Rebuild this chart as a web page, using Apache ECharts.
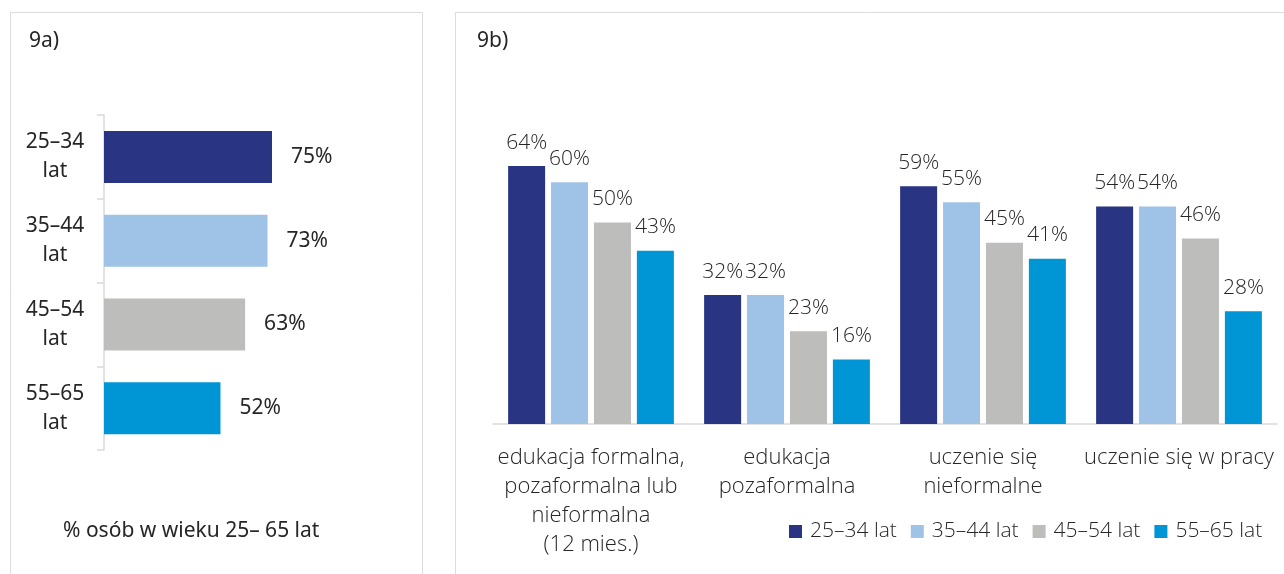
<!DOCTYPE html>
<html>
<head>
<meta charset="utf-8">
<script src="https://cdn.jsdelivr.net/npm/echarts@6/dist/echarts.min.js"></script>
<style>
    html, body { margin: 0; padding: 0; background: #fff; }
    #chart { width: 1284px; height: 574px; }
</style>
</head>
<body>
<div id="chart"></div>
<script>
    // 9a) udział osób w wieku 25-65 lat
    const ageGroups = ['25–34\nlat', '35–44\nlat', '45–54\nlat', '55–65\nlat'];
    const ageTotals = [75, 73, 63, 52];

    // 9b) formy uczenia się
    const forms = ['edukacja formalna,\npozaformalna lub\nnieformalna\n(12 mies.)', 'edukacja\npozaformalna', 'uczenie się\nnieformalne', 'uczenie się w pracy'];
    const seriesNames = ['25–34 lat', '35–44 lat', '45–54 lat', '55–65 lat'];
    const age2534 = [64, 32, 59, 54];
    const age3544 = [60, 32, 55, 54];
    const age4554 = [50, 23, 45, 46];
    const age5565 = [43, 16, 41, 28];

    const colors = ['#293582', '#9fc3e6', '#bdbdbc', '#0095d5'];
    const leftFont = '"Noto Sans", "Open Sans", sans-serif';
    const rightFont = '"Open Sans", "Noto Sans", sans-serif';

    const chart = echarts.init(document.getElementById('chart'));

    const rightData = [age2534, age3544, age4554, age5565];
    const rightSeries = rightData.map(function (d, i) {
        return {
            name: seriesNames[i],
            type: 'bar',
            xAxisIndex: 1,
            yAxisIndex: 1,
            data: d,
            barWidth: 37,
            barGap: '16%',
            itemStyle: { color: colors[i] },
            label: {
                show: true,
                position: 'top',
                distance: 13,
                formatter: '{c}%',
                fontFamily: rightFont,
                fontWeight: 300,
                fontSize: 21,
                color: '#262626'
            }
        };
    });

    chart.setOption({
        animation: false,
        graphic: [
            { type: 'rect', shape: { x: 10.5, y: 12.5, width: 412, height: 580 }, style: { fill: 'none', stroke: '#dcdcdc', lineWidth: 1 } },
            { type: 'rect', shape: { x: 455.5, y: 12.5, width: 850, height: 580 }, style: { fill: 'none', stroke: '#dcdcdc', lineWidth: 1 } },
            { type: 'text', left: 29, top: 31, style: { text: '9a)', font: '21px ' + leftFont, fill: '#262626' } },
            { type: 'text', left: 477, top: 31, style: { text: '9b)', font: '21px ' + leftFont, fill: '#262626' } },
            { type: 'text', left: 63, top: 521, style: { text: '% osób w wieku 25– 65 lat', font: '21px ' + leftFont, fill: '#262626' } }
        ],
        legend: {
            data: seriesNames,
            left: 784,
            top: 516,
            itemWidth: 13,
            itemHeight: 13,
            itemGap: 14,
            icon: 'rect',
            selectedMode: false,
            textStyle: { fontFamily: rightFont, fontWeight: 300, fontSize: 21, color: '#262626', padding: [0, 0, 0, 3] }
        },
        grid: [
            { left: 104, top: 115, width: 224, height: 335 },
            { left: 493, right: 7, top: 21, bottom: 150 }
        ],
        xAxis: [
            { gridIndex: 0, type: 'value', min: 0, max: 100, show: false },
            {
                gridIndex: 1,
                type: 'category',
                data: forms,
                axisLine: { lineStyle: { color: '#d9d9d9', width: 1.5 } },
                axisTick: { show: false },
                axisLabel: {
                    margin: 19,
                    interval: 0,
                    fontFamily: rightFont,
                    fontWeight: 300,
                    fontSize: 22,
                    lineHeight: 29,
                    color: '#262626'
                }
            }
        ],
        yAxis: [
            {
                gridIndex: 0,
                type: 'category',
                inverse: true,
                data: ageGroups,
                axisLine: { lineStyle: { color: '#d9d9d9', width: 1.5 } },
                axisTick: { show: true, length: 7, lineStyle: { color: '#d9d9d9', width: 1.5 } },
                axisLabel: {
                    margin: 49,
                    align: 'center',
                    fontFamily: leftFont,
                    fontSize: 21,
                    lineHeight: 29,
                    color: '#262626'
                }
            },
            { gridIndex: 1, type: 'value', min: 0, max: 100, show: false }
        ],
        series: [
            {
                type: 'bar',
                xAxisIndex: 0,
                yAxisIndex: 0,
                data: ageTotals.map(function (v, i) {
                    return { value: v, itemStyle: { color: colors[i] } };
                }),
                barWidth: 52,
                label: {
                    show: true,
                    position: 'right',
                    distance: 19,
                    formatter: '{c}%',
                    fontFamily: leftFont,
                    fontSize: 21,
                    color: '#262626'
                }
            }
        ].concat(rightSeries)
    });
</script>
</body>
</html>
